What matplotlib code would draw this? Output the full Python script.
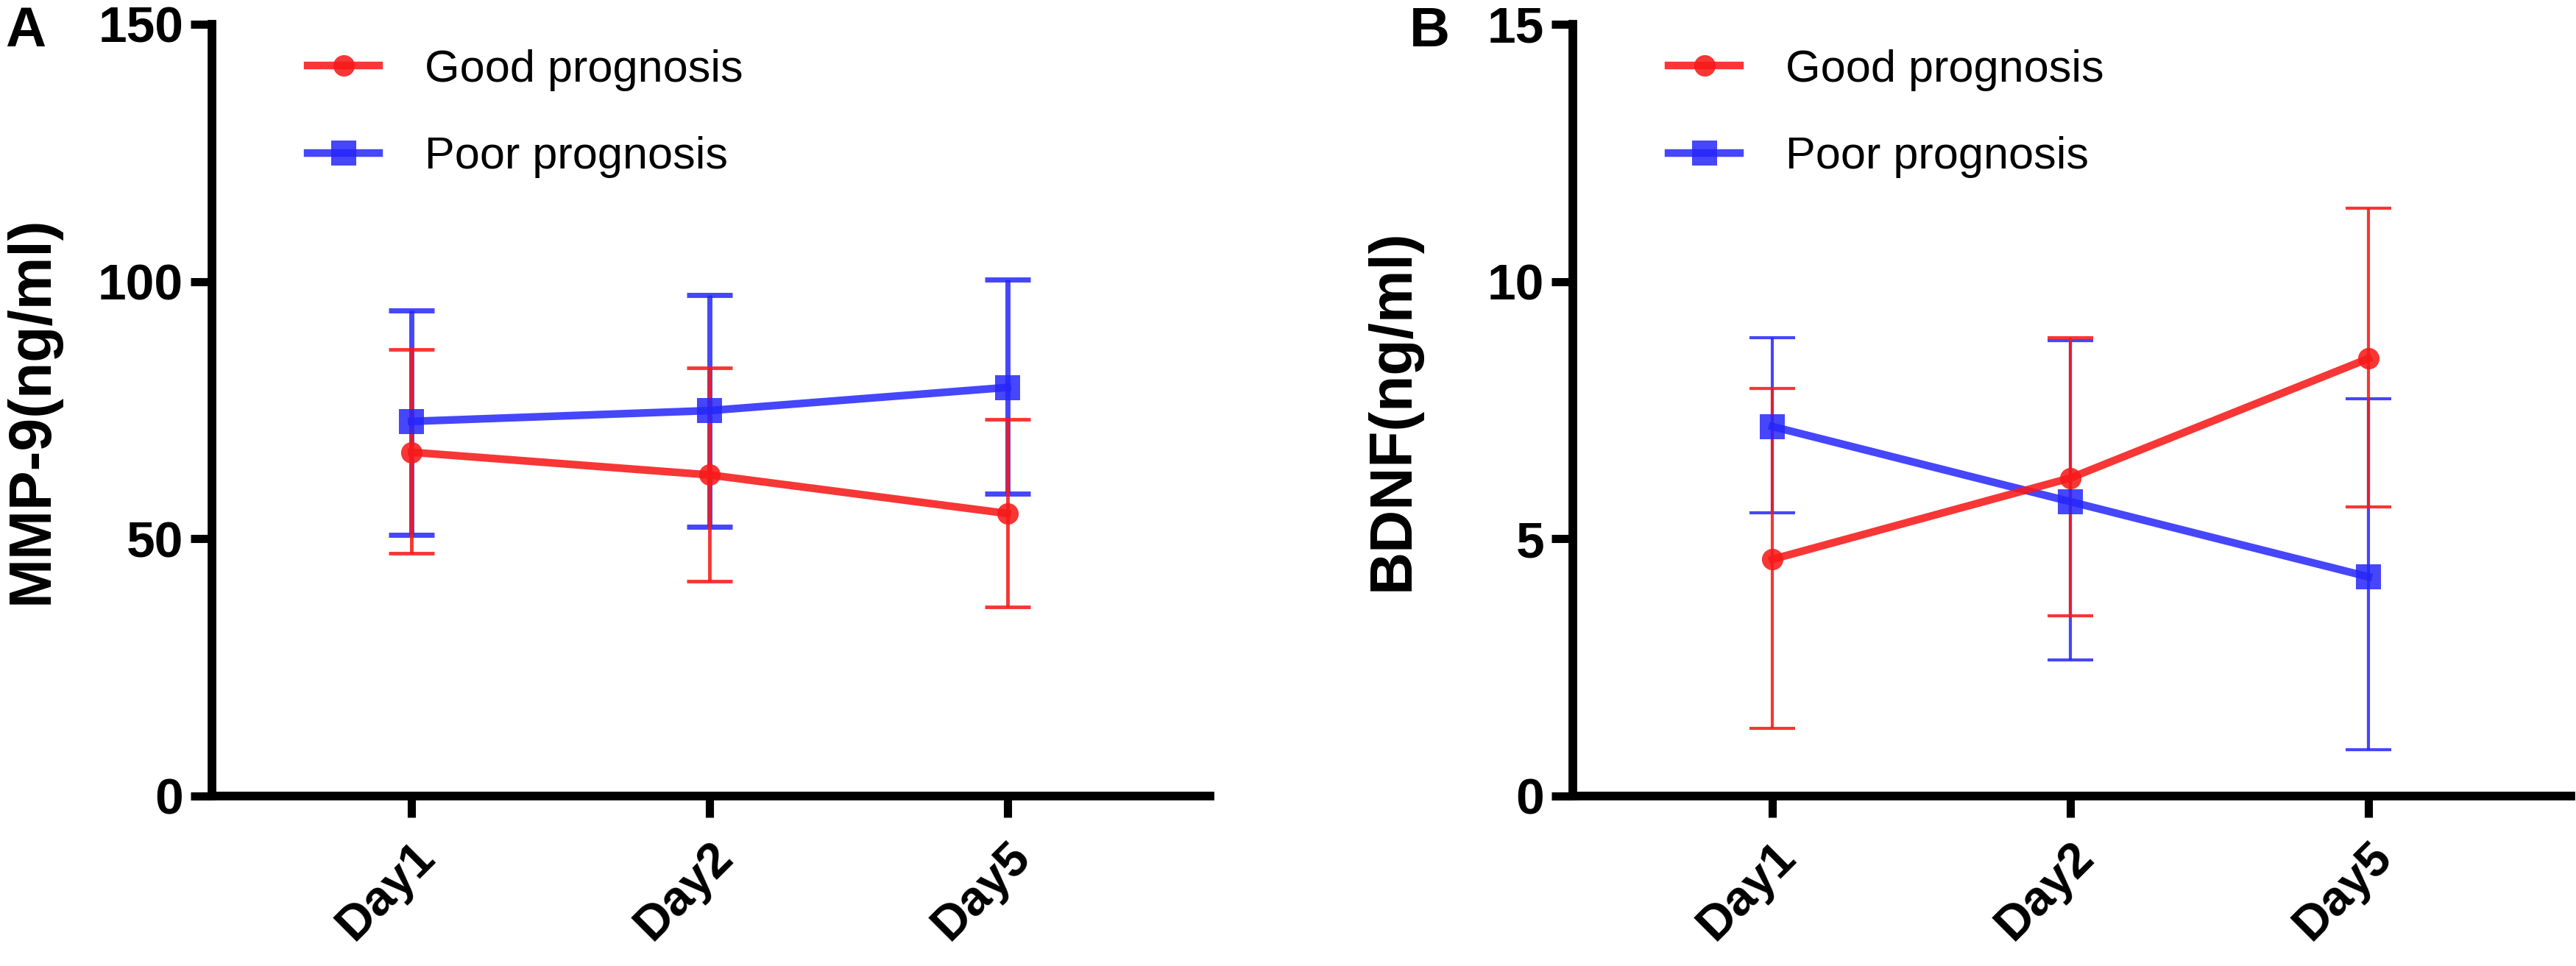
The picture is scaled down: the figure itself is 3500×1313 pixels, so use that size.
import matplotlib
matplotlib.use("Agg")
import matplotlib.pyplot as plt
from matplotlib.lines import Line2D

plt.rcParams['font.family'] = ['Liberation Sans', 'DejaVu Sans']

days = ["Day1", "Day2", "Day5"]

# panel A: MMP-9 (ng/ml), mean with upper/lower whisker ends
mmp_good = [66.8, 62.4, 54.9]
mmp_good_hi = [86.8, 83.2, 73.2]
mmp_good_lo = [47.2, 41.8, 36.8]
mmp_poor = [72.8, 74.9, 79.4]
mmp_poor_hi = [94.4, 97.4, 100.3]
mmp_poor_lo = [50.8, 52.3, 58.8]

# panel B: BDNF (ng/ml)
bdnf_good = [4.6, 6.18, 8.5]
bdnf_good_hi = [7.92, 8.9, 11.42]
bdnf_good_lo = [1.32, 3.5, 5.62]
bdnf_poor = [7.18, 5.72, 4.26]
bdnf_poor_hi = [8.9, 8.85, 7.72]
bdnf_poor_lo = [5.5, 2.65, 0.9]

RED = (0.97, 0.1, 0.1, 0.88)
BLUE = (0.15, 0.15, 0.98, 0.85)


def draw_panel(ax, good, good_hi, good_lo, poor, poor_hi, poor_lo,
               ymax, yticks, ylabel, err_good, err_poor):
    x = list(range(len(days)))
    for vals, hi, lo, col, mk, ms, elw in [(poor, poor_hi, poor_lo, BLUE, "s", 25, err_poor),
                                           (good, good_hi, good_lo, RED, "o", 21, err_good)]:
        yerr = [[v - l for v, l in zip(vals, lo)], [h - v for v, h in zip(vals, hi)]]
        ax.errorbar(x, vals, yerr=yerr, fmt="none", ecolor=col, elinewidth=elw,
                    capsize=22, capthick=elw, zorder=2)
        ax.plot(x, vals, color=col, lw=7.5, marker=mk, ms=ms, mew=0, zorder=3)

    ax.set_xlim(-0.67, 2.68)
    ax.set_ylim(0, ymax)
    ax.set_yticks(yticks)
    ax.set_xticks(x)
    ax.set_xticklabels(days, rotation=45, ha="right", rotation_mode="anchor",
                       fontsize=48, fontweight="bold")
    for t in ax.get_yticklabels():
        t.set_fontsize(50)
        t.set_fontweight("bold")
    ax.tick_params(axis="both", width=8, length=21, pad=7)
    ax.tick_params(axis="x", pad=16)
    for s in ["top", "right"]:
        ax.spines[s].set_visible(False)
    for s in ["left", "bottom"]:
        ax.spines[s].set_linewidth(8.5)
    ax.set_ylabel(ylabel, fontsize=58, fontweight="bold")
    ax.yaxis.set_label_coords(-0.152, 0.5)

    handles = [Line2D([], [], color=RED, lw=7.5, marker="o", ms=21, mew=0),
               Line2D([], [], color=BLUE, lw=7.5, marker="s", ms=25, mew=0)]
    ax.legend(handles, ["Good prognosis", "Poor prognosis"], loc="upper left",
              bbox_to_anchor=(0.055, 1.02), frameon=False, fontsize=44,
              handlelength=1.6, handletextpad=1.0, labelspacing=1.0)


fig = plt.figure(figsize=(35, 13.13), dpi=100)
ax1 = fig.add_axes([0.0823, 0.176, 0.3874, 0.799])
ax2 = fig.add_axes([0.6106, 0.176, 0.3874, 0.799])

draw_panel(ax1, mmp_good, mmp_good_hi, mmp_good_lo, mmp_poor, mmp_poor_hi, mmp_poor_lo,
           150, [0, 50, 100, 150], "MMP-9(ng/ml)", 3.5, 5)
draw_panel(ax2, bdnf_good, bdnf_good_hi, bdnf_good_lo, bdnf_poor, bdnf_poor_hi, bdnf_poor_lo,
           15, [0, 5, 10, 15], "BDNF(ng/ml)", 3, 3)

fig.text(0.002, 0.994, "A", fontsize=55, fontweight="bold", va="top")
fig.text(0.547, 0.994, "B", fontsize=55, fontweight="bold", va="top")

fig.savefig("out.png", dpi=100)
